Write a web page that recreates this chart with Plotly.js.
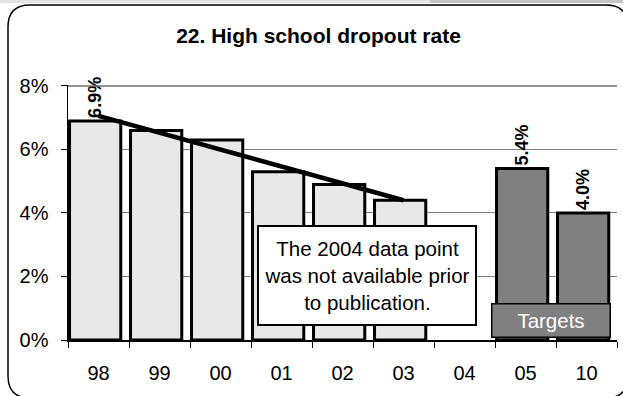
<!DOCTYPE html>
<html>
<head>
<meta charset="utf-8">
<script src="https://cdn.plot.ly/plotly-3.0.1.min.js"></script>
<style>html,body{margin:0;padding:0;background:#fff;}#chart{width:623px;height:396px;}</style>
</head>
<body>
<div id="chart"></div>
<script>
// ---- data ----
var categories = ['98','99','00','01','02','03','04','05','10'];
var actualYears = ['98','99','00','01','02','03','04'];
var actualValues = [6.9, 6.6, 6.3, 5.3, 4.9, 4.4, null];
var actualLabels = ['6.9%', '', '', '', '', '', ''];
var targetYears = ['05','10'];
var targetValues = [5.4, 4.0];
var targetLabels = ['5.4%', '4.0%'];
var trendYears = ['98','03'];
var trendValues = [7.06, 4.40];
var yTickVals = [0, 2, 4, 6, 8];
var yTickText = ['0%', '2%', '4%', '6%', '8%'];
var titleText = '22. High school dropout rate';
var noteText = 'The 2004 data point<br>was not available prior<br>to publication.';
var targetBoxText = 'Targets';

// ---- layout geometry (pixels) ----
var W = 623, H = 396;
var M = {l: 68, r: 6, t: 85, b: 56};
var PW = W - M.l - M.r, PH = H - M.t - M.b;
function px(x) { return (x - M.l) / PW; }
function py(y) { return (H - M.b - y) / PH; }

var FONT = 'Liberation Sans, Arial, sans-serif';

function borderPath() {
  var L = 8, T = 5, R = 628, B = 398, r = 22;
  return 'M' + px(L) + ',' + py(T + r) +
    ' Q' + px(L) + ',' + py(T) + ' ' + px(L + r) + ',' + py(T) +
    ' L' + px(R - r) + ',' + py(T) +
    ' Q' + px(R) + ',' + py(T) + ' ' + px(R) + ',' + py(T + r) +
    ' L' + px(R) + ',' + py(B - r) +
    ' Q' + px(R) + ',' + py(B) + ' ' + px(R - r) + ',' + py(B) +
    ' L' + px(L + r) + ',' + py(B) +
    ' Q' + px(L) + ',' + py(B) + ' ' + px(L) + ',' + py(B - r) + ' Z';
}

var traces = [
  {
    type: 'bar', x: actualYears, y: actualValues,
    width: 0.84, offset: -0.475,
    marker: {color: '#e8e8e8', line: {color: '#000', width: 3}},
    text: actualLabels, textposition: 'outside', textangle: -90,
    textfont: {family: FONT, size: 18, color: '#000', weight: 'bold'},
    constraintext: 'none', cliponaxis: false, hoverinfo: 'skip', showlegend: false
  },
  {
    type: 'bar', x: targetYears, y: targetValues,
    width: 0.84, offset: -0.475,
    marker: {color: '#808080', line: {color: '#000', width: 3}},
    text: targetLabels, textposition: 'outside', textangle: -90,
    textfont: {family: FONT, size: 18, color: '#000', weight: 'bold'},
    constraintext: 'none', cliponaxis: false, hoverinfo: 'skip', showlegend: false
  },
  {
    type: 'scatter', mode: 'lines', x: trendYears, y: trendValues,
    line: {color: '#000', width: 4.5}, hoverinfo: 'skip', showlegend: false, cliponaxis: false
  }
];

var layout = {
  width: W, height: H,
  margin: {l: M.l, r: M.r, t: M.t, b: M.b, pad: 0},
  paper_bgcolor: '#fff', plot_bgcolor: 'rgba(0,0,0,0)',
  barmode: 'overlay',
  showlegend: false,
  font: {family: FONT, color: '#000'},
  title: {
    text: '<b>' + titleText + '</b>',
    font: {family: FONT, size: 21, color: '#000'},
    xref: 'container', x: 318.5 / W, xanchor: 'center',
    yref: 'container', y: 1 - 36 / H, yanchor: 'middle'
  },
  xaxis: {
    type: 'category', categoryorder: 'array', categoryarray: categories,
    range: [-0.5, categories.length - 0.5],
    tickson: 'boundaries', ticks: 'outside', ticklen: 6, tickwidth: 1, tickcolor: '#000',
    showline: true, linecolor: '#000', linewidth: 1.5,
    showgrid: false, zeroline: false, fixedrange: true,
    tickfont: {family: FONT, size: 20, color: '#000'},
    ticklabelstandoff: 14
  },
  yaxis: {
    range: [0, 8.03], tickvals: yTickVals, ticktext: yTickText,
    ticks: 'outside', ticklen: 6, tickwidth: 1, tickcolor: '#000',
    showline: true, linecolor: '#000', linewidth: 1.5,
    showgrid: true, gridcolor: '#808080', gridwidth: 1,
    zeroline: false, fixedrange: true,
    tickfont: {family: FONT, size: 20, color: '#000'},
    ticklabelstandoff: 8
  },
  shapes: [
    {type: 'rect', xref: 'paper', yref: 'paper', layer: 'below',
     x0: px(0), x1: px(430), y0: py(0), y1: py(3), fillcolor: '#e2e2e2', line: {width: 0}},
    {type: 'rect', xref: 'paper', yref: 'paper', layer: 'below',
     x0: px(430), x1: px(W), y0: py(0), y1: py(3), fillcolor: '#c4c4c4', line: {width: 0}},
    {type: 'line', xref: 'paper', yref: 'y', layer: 'above',
     x0: 0, x1: 1, y0: yTickVals[yTickVals.length - 1], y1: yTickVals[yTickVals.length - 1],
     line: {color: '#6e6e6e', width: 1.5}},
    {type: 'path', xref: 'paper', yref: 'paper', layer: 'above',
     path: borderPath(), line: {color: '#000', width: 1.5}, fillcolor: 'rgba(0,0,0,0)'}
  ],
  annotations: [
    {
      xref: 'paper', yref: 'paper', x: px(367), y: py(275.5), xanchor: 'center', yanchor: 'middle',
      text: noteText, showarrow: false, align: 'center',
      width: 216, height: 97, bgcolor: '#fff', bordercolor: '#000', borderwidth: 2, borderpad: 0,
      font: {family: FONT, size: 20.5, color: '#000'}
    },
    {
      xref: 'paper', yref: 'paper', x: px(551), y: py(320.5), xanchor: 'center', yanchor: 'middle',
      text: targetBoxText, showarrow: false, align: 'center',
      width: 117, height: 32, bgcolor: '#808080', bordercolor: '#000', borderwidth: 1.5, borderpad: 0,
      font: {family: FONT, size: 20.5, color: '#fff'}
    }
  ]
};

Plotly.newPlot('chart', traces, layout, {staticPlot: true, displayModeBar: false});
</script>
</body>
</html>
